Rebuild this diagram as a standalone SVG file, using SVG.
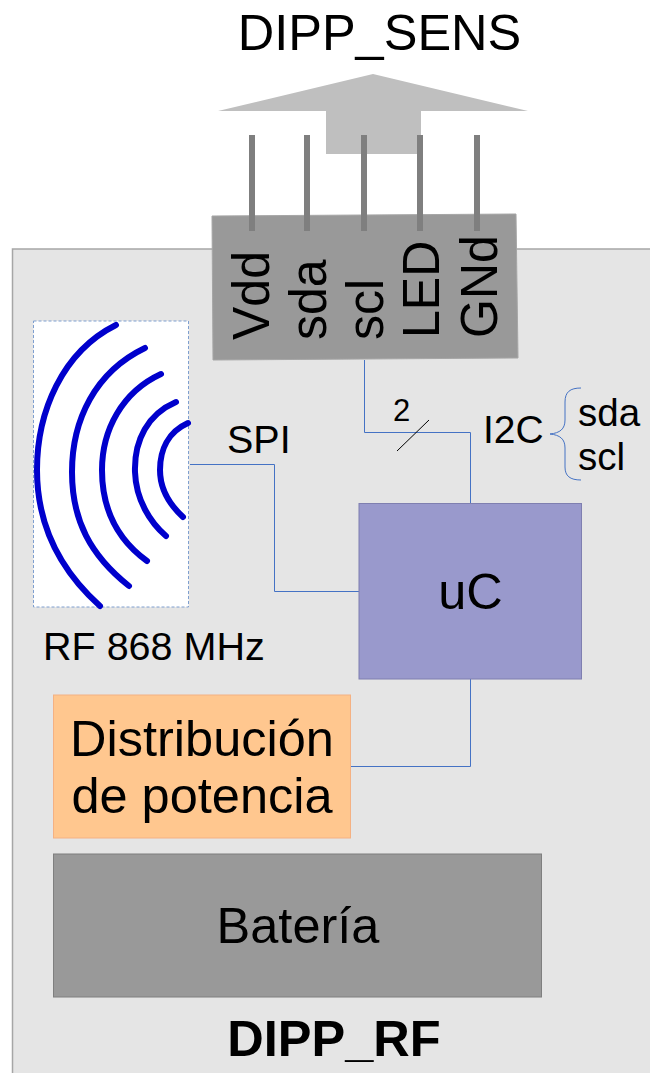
<svg xmlns="http://www.w3.org/2000/svg" width="650" height="1073" viewBox="0 0 650 1073">
<style>
text{font-family:"Liberation Sans",Arial,sans-serif;fill:#000}
.wire{fill:none;stroke:#4472c4;stroke-width:1}
.pin{fill:#7f7f7f}
.arc{fill:none;stroke:#0000cc;stroke-width:6;stroke-linecap:round}
.pl{font-size:50px}
.big{font-size:50.5px;text-anchor:middle}
</style>
<rect width="650" height="1073" fill="#fff"/>
<g id="dipp_rf"><rect x="12.500" y="249" width="640" height="826" fill="#e5e5e5" stroke="#a6a6a6" stroke-width="1.500"/>
<text class="big" x="334" y="1056" font-weight="700">DIPP_RF</text></g>
<g id="arrow"><polygon points="373,74 528,111 421,111 421,154 326,154 326,111 218,111" fill="#bfbfbf"/></g>
<text id="title" class="big" x="379.500" y="50">DIPP_SENS</text>
<g id="connector"><polygon points="212,216 516,214 518,358 213,360" fill="#999" stroke="#a6a6a6"/>
<rect class="pin" x="249" y="135" width="6" height="96"/><rect class="pin" x="304" y="135" width="6" height="96"/><rect class="pin" x="361" y="135" width="6" height="96"/><rect class="pin" x="417" y="135" width="6" height="96"/><rect class="pin" x="474" y="135" width="6" height="96"/>
<text class="pl" transform="translate(269,340) rotate(-90) scale(1,1.05)">Vdd</text>
<text class="pl" transform="translate(326,340) rotate(-90) scale(1,1.05)">sda</text>
<text class="pl" transform="translate(383,340) rotate(-90) scale(1,1.05)">scl</text>
<text class="pl" transform="translate(439,338) rotate(-90) scale(1,1.05)">LED</text>
<text class="pl" transform="translate(497,338) rotate(-90) scale(1,1.05)">GNd</text></g>
<g id="connectors">
<path class="wire" d="M364.500 360V432.500H470.500V503"/>
<path class="wire" d="M190 464.500H274.500V591.500H359"/>
<path class="wire" d="M470.500 679V766.500H351"/>
<path d="M397 451L429 420" stroke="#000" stroke-width="1" fill="none"/>
<path class="wire" d="M581 388C570 388 565 392 565 402V420C565 429 560 433 550 434C560 435 565 439 565 448V467C565 476 570 480 581 480"/>
</g>
<g id="rf"><rect x="33.500" y="321" width="155" height="286" fill="#fff" stroke="#7f9fcf" stroke-dasharray="3 2"/>
<path class="arc" d="M116 325C62 352 37 412 37 470C37 525 60 570 100 606"/>
<path class="arc" d="M145 348C95 372 72 420 72 472C72 520 90 555 129 586"/>
<path class="arc" d="M161 374C122 392 102 430 102 470C102 510 118 540 147 561"/>
<path class="arc" d="M176 402C148 414 134 440 135 472C136 500 150 522 166 536"/>
<path class="arc" d="M188 423C168 432 160 450 160 470C160 490 170 505 183 517"/>
<text x="43" y="660" font-size="39.500">RF 868 MHz</text></g>
<text id="spi" x="227" y="453" font-size="39.500">SPI</text>
<text x="393" y="421" font-size="31">2</text>
<text x="483" y="443" font-size="39">I2C</text>
<text x="578" y="426" font-size="38.500">sda</text>
<text x="578" y="470" font-size="38.500">scl</text>
<g id="uc"><rect x="359" y="503.500" width="222.500" height="175.500" fill="#9999cc" stroke="#7f7fb0"/>
<text class="big" x="470.500" y="609">uC</text></g>
<g id="dist"><rect x="53.500" y="695" width="297" height="143" fill="#ffc78f" stroke="#f4b183"/>
<text class="big" x="202" y="756">Distribución</text>
<text class="big" x="202" y="813">de potencia</text></g>
<g id="bat"><rect x="53.500" y="854" width="488" height="143" fill="#999" stroke="#7f7f7f"/>
<text class="big" x="298" y="943">Batería</text></g>
</svg>
